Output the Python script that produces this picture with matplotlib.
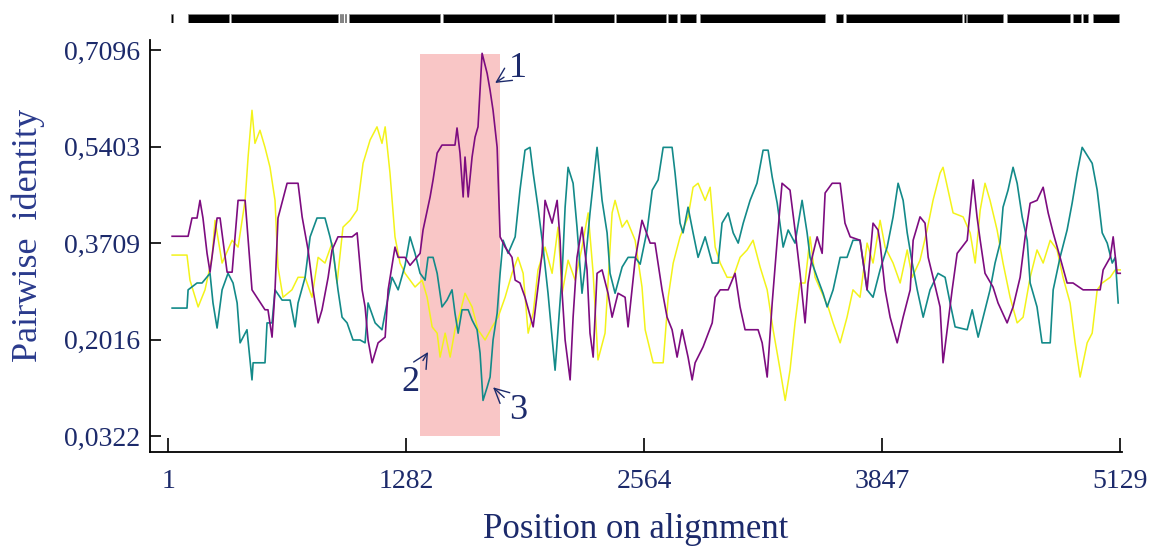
import matplotlib
matplotlib.use("Agg")
import matplotlib.pyplot as plt

plt.rcParams["font.family"] = ["Liberation Serif", "DejaVu Serif"]

# sequence 1 (purple)
pos1 = [23, 109, 130, 157, 173, 189, 211, 227, 265, 281, 319, 346, 378, 416, 453, 523, 539, 561, 577, 593,
        642, 701, 723, 755, 782, 809, 830, 863, 884, 916, 992, 1019, 1046, 1062, 1078, 1100, 1132, 1170, 1186, 1223,
        1240, 1277, 1304, 1358, 1374, 1412, 1428, 1450, 1476, 1546, 1557, 1573, 1590, 1600, 1617, 1638, 1654, 1670, 1692, 1719,
        1735, 1751, 1773, 1789, 1816, 1853, 1870, 1896, 1923, 1967, 1993, 2015, 2031, 2069, 2096, 2112, 2123, 2139, 2166, 2182,
        2203, 2230, 2257, 2273, 2290, 2311, 2338, 2370, 2392, 2424, 2462, 2478, 2516, 2553, 2597, 2623, 2661, 2688, 2715, 2742,
        2769, 2801, 2823, 2839, 2882, 2931, 2947, 2974, 3017, 3054, 3081, 3108, 3178, 3200, 3227, 3254, 3281, 3307, 3350, 3377,
        3404, 3431, 3447, 3469, 3496, 3523, 3539, 3577, 3620, 3646, 3674, 3727, 3765, 3797, 3824, 3835, 3862, 3889, 3927, 3959,
        3997, 4013, 4050, 4077, 4094, 4120, 4158, 4174, 4201, 4223, 4250, 4304, 4336, 4357, 4374, 4400, 4443, 4470, 4519, 4551,
        4589, 4616, 4643, 4680, 4713, 4740, 4767, 4804, 4842, 4874, 4928, 5020, 5036, 5074, 5090, 5111, 5128]
ident1 = [.383, .383, .415, .415, .446, .415, .353, .320, .415, .415, .320, .320, .446, .446, .289, .254, .254, .206, .289, .415,
          .476, .476, .417, .359, .289, .231, .254, .311, .359, .382, .382, .389, .289, .259, .201, .161, .196, .206, .289, .364,
          .346, .346, .332, .353, .394, .452, .482, .529, .543, .543, .573, .529, .452, .522, .452, .522, .557, .575, .704, .669,
          .639, .604, .539, .382, .364, .346, .306, .301, .276, .224, .294, .353, .446, .406, .446, .376, .283, .201, .131, .241,
          .346, .399, .324, .213, .171, .318, .324, .283, .241, .283, .276, .224, .341, .411, .371, .371, .289, .241, .219, .171,
          .219, .171, .131, .161, .189, .231, .276, .289, .289, .318, .259, .219, .219, .196, .136, .266, .376, .476, .464, .394,
          .318, .231, .301, .346, .382, .353, .459, .476, .476, .406, .382, .376, .289, .406, .394, .371, .289, .241, .196, .241,
          .289, .376, .417, .406, .346, .311, .259, .161, .231, .289, .353, .376, .482, .417, .376, .318, .294, .266, .231, .259,
          .311, .382, .441, .446, .469, .424, .389, .346, .301, .301, .289, .289, .324, .346, .382, .318, .318]

# sequence 2 (yellow)
pos2 = [23, 103, 119, 163, 200, 238, 254, 292, 346, 378, 416, 432, 453, 469, 496, 523, 550, 577, 593, 620,
        668, 701, 739, 776, 809, 846, 884, 911, 943, 981, 1019, 1051, 1089, 1126, 1153, 1170, 1196, 1223, 1250, 1277,
        1331, 1369, 1396, 1423, 1450, 1466, 1493, 1520, 1546, 1573, 1600, 1638, 1670, 1708, 1746, 1778, 1816, 1853, 1885, 1913,
        1940, 1967, 1993, 2031, 2069, 2101, 2123, 2155, 2193, 2230, 2263, 2290, 2316, 2354, 2392, 2408, 2446, 2472, 2516, 2553,
        2570, 2613, 2667, 2694, 2721, 2758, 2801, 2828, 2855, 2893, 2920, 2947, 2974, 3011, 3044, 3081, 3119, 3151, 3189, 3227,
        3259, 3297, 3324, 3350, 3377, 3404, 3431, 3458, 3485, 3523, 3555, 3582, 3620, 3657, 3689, 3727, 3765, 3797, 3835, 3862,
        3905, 3943, 3981, 4008, 4050, 4088, 4120, 4158, 4174, 4201, 4228, 4282, 4320, 4347, 4374, 4400, 4427, 4465, 4497, 4535,
        4573, 4605, 4643, 4680, 4713, 4751, 4788, 4820, 4858, 4885, 4912, 4950, 4977, 5004, 5031, 5074, 5101, 5128]
ident2 = [.350, .350, .306, .259, .289, .346, .411, .336, .376, .364, .446, .522, .604, .546, .569, .539, .504, .446, .329, .276,
          .289, .311, .311, .276, .346, .336, .371, .301, .399, .411, .429, .511, .552, .575, .546, .575, .494, .382, .336, .318,
          .294, .306, .276, .224, .213, .171, .213, .171, .219, .248, .283, .259, .219, .201, .224, .241, .276, .318, .346, .318,
          .213, .248, .324, .364, .318, .399, .283, .341, .306, .364, .424, .318, .166, .213, .424, .446, .399, .411, .376, .294,
          .219, .161, .161, .276, .336, .382, .417, .469, .476, .446, .469, .364, .336, .311, .311, .346, .359, .376, .329, .289,
          .219, .148, .095, .148, .231, .301, .301, .382, .311, .283, .259, .231, .196, .241, .289, .276, .371, .336, .411, .364,
          .336, .301, .359, .311, .341, .394, .446, .494, .504, .464, .424, .417, .389, .336, .429, .476, .446, .394, .336, .276,
          .231, .241, .311, .359, .336, .376, .359, .311, .266, .196, .136, .196, .213, .289, .301, .311, .324, .324]

# sequence 3 (teal)
pos3 = [23, 103, 109, 157, 184, 227, 243, 265, 292, 324, 351, 373, 389, 426, 453, 459, 523, 534, 561, 577,
        615, 658, 685, 701, 739, 766, 803, 846, 873, 889, 916, 938, 965, 997, 1035, 1062, 1078, 1116, 1153, 1180,
        1207, 1240, 1277, 1304, 1331, 1358, 1385, 1401, 1428, 1450, 1476, 1503, 1530, 1546, 1563, 1584, 1617, 1638, 1665, 1681,
        1697, 1719, 1735, 1751, 1773, 1789, 1805, 1832, 1870, 1896, 1923, 1950, 1967, 1993, 2020, 2047, 2085, 2123, 2139, 2155,
        2182, 2203, 2230, 2246, 2273, 2311, 2338, 2365, 2381, 2408, 2446, 2478, 2516, 2543, 2581, 2608, 2640, 2667, 2715, 2731,
        2758, 2774, 2801, 2828, 2855, 2893, 2931, 2963, 2984, 3017, 3044, 3071, 3098, 3135, 3172, 3205, 3232, 3254, 3281, 3313,
        3340, 3377, 3415, 3442, 3458, 3496, 3528, 3550, 3582, 3620, 3657, 3689, 3727, 3765, 3797, 3835, 3873, 3905, 3932, 3959,
        3981, 4008, 4035, 4067, 4104, 4147, 4185, 4212, 4239, 4304, 4331, 4363, 4390, 4427, 4454, 4481, 4497, 4524, 4551, 4573,
        4600, 4627, 4643, 4680, 4707, 4751, 4767, 4804, 4842, 4869, 4896, 4923, 4977, 5004, 5031, 5058, 5085, 5101, 5117]
ident3 = [.257, .257, .289, .301, .301, .318, .266, .222, .289, .318, .301, .266, .196, .219, .131, .161, .161, .231, .231, .289,
          .271, .271, .224, .266, .311, .382, .415, .415, .382, .359, .289, .241, .231, .201, .201, .196, .266, .231, .219, .266,
          .311, .289, .332, .382, .353, .318, .306, .346, .346, .318, .259, .271, .289, .248, .213, .254, .254, .236, .219, .178,
          .095, .118, .136, .201, .248, .318, .376, .353, .382, .464, .534, .539, .494, .434, .364, .283, .148, .318, .434, .504,
          .476, .399, .283, .329, .424, .539, .446, .389, .318, .283, .329, .346, .346, .334, .394, .464, .482, .539, .539, .494,
          .406, .389, .434, .389, .346, .382, .336, .336, .406, .424, .389, .371, .406, .446, .476, .534, .534, .487, .441, .364,
          .394, .371, .446, .389, .346, .311, .283, .259, .289, .346, .346, .376, .376, .289, .276, .324, .364, .417, .476, .446,
          .389, .336, .289, .241, .289, .318, .311, .266, .224, .219, .254, .206, .241, .289, .336, .371, .434, .464, .504, .476,
          .417, .376, .301, .259, .196, .196, .289, .346, .394, .441, .494, .539, .511, .464, .389, .371, .336, .346, .266]

# aligned blocks shown in the bar above the plot
block_start = [17, 109, 340, 927, 938, 954, 976, 1482, 2080, 2413, 2694, 2758, 2866, 3598, 3652, 4288, 4304, 4519, 4874, 4928, 4982]
block_end = [28, 330, 916, 932, 943, 959, 1466, 2069, 2403, 2683, 2742, 2844, 3539, 3636, 4277, 4298, 4497, 4858, 4917, 4955, 5122]

yticks = [0.0322, 0.2016, 0.3709, 0.5403, 0.7096]
ytick_labels = ["0,0322", "0,2016", "0,3709", "0,5403", "0,7096"]
xticks = [1, 1282, 2564, 3847, 5129]
highlight_start, highlight_end = 1358, 1789

navy = "#1c2a6b"
purple = "#7d0c80"
teal = "#138a89"
yellow = "#f3f31a"

fig = plt.figure(figsize=(11.55, 5.5), dpi=100)
ax = fig.add_axes([0.1299, 0.178, 0.8416, 0.749])
bar_ax = fig.add_axes([0.1299, 0.958, 0.8416, 0.017])

ax.fill_between([highlight_start, highlight_end], yticks[0], 0.703, color="#f9c6c6", lw=0, zorder=1)

ax.plot(pos2, ident2, color=yellow, lw=1.1, zorder=2)
ax.plot(pos3, ident3, color=teal, lw=1.2, zorder=3)
ax.plot(pos1, ident1, color=purple, lw=1.2, zorder=4)

ax.set_xlim(-96, 5138)
ax.set_ylim(0.0043, 0.7271)
ax.spines["top"].set_visible(False)
ax.spines["right"].set_visible(False)
ax.spines["left"].set_linewidth(1.3)
ax.spines["bottom"].set_linewidth(1.3)
ax.set_yticks(yticks)
ax.set_yticklabels(ytick_labels)
ax.set_xticks(xticks)
ax.set_xticklabels([str(v) for v in xticks])
ax.tick_params(axis="y", direction="in", length=8, width=1.2, labelsize=20, labelcolor=navy, pad=7)
ax.tick_params(axis="x", direction="in", length=10, width=1.2, labelsize=20, labelcolor=navy, pad=12)
ax.set_xlabel("Position on alignment", fontsize=25, color=navy, labelpad=14)
ax.set_ylabel("Pairwise  identity", fontsize=26, color="#2a3a8c")
ax.yaxis.set_label_coords(-0.108, 0.527)

arrow = dict(arrowstyle="->", color=navy, lw=1.0, shrinkA=2, shrinkB=0)
ax.annotate("1", xy=(1762, 0.652), xytext=(1886, 0.678), fontsize=26, color=navy,
            ha="center", va="center", arrowprops=arrow, zorder=6)
ax.annotate("2", xy=(1401, 0.180), xytext=(1304, 0.127), fontsize=26, color=navy,
            ha="center", va="center", arrowprops=arrow, zorder=6)
ax.annotate("3", xy=(1751, 0.118), xytext=(1886, 0.078), fontsize=26, color=navy,
            ha="center", va="center", arrowprops=arrow, zorder=6)

bar_ax.broken_barh([(s, e - s) for s, e in zip(block_start, block_end)], (0, 1),
                   facecolor="black", edgecolor="#888888", lw=0.5)
bar_ax.set_xlim(-96, 5138)
bar_ax.set_ylim(0, 1)
bar_ax.axis("off")

fig.savefig("out.png", dpi=100)
